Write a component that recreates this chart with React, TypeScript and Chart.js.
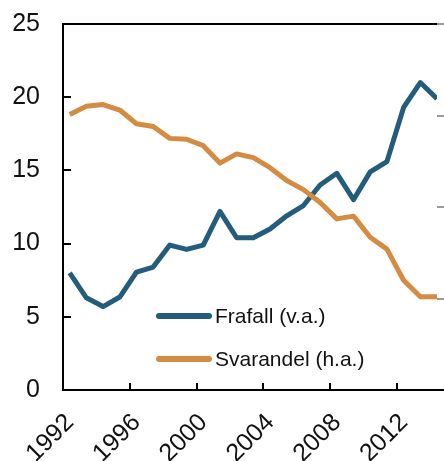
import React, { useEffect, useRef } from "react";
import { Chart, registerables } from "chart.js";

Chart.register(...registerables);

// ---- data ----
const years = [1992, 1993, 1994, 1995, 1996, 1997, 1998, 1999, 2000, 2001, 2002, 2003, 2004, 2005, 2006, 2007, 2008, 2009, 2010, 2011, 2012, 2013, 2014];
const frafall = [8.0, 6.3, 5.7, 6.35, 8.05, 8.4, 9.9, 9.6, 9.9, 12.2, 10.4, 10.4, 11.0, 11.9, 12.6, 14.0, 14.8, 13.0, 14.9, 15.6, 19.3, 21.0, 19.9];
const svarandel = [80.1, 81.0, 81.2, 80.6, 79.1, 78.8, 77.5, 77.4, 76.7, 74.8, 75.8, 75.4, 74.3, 72.9, 71.9, 70.5, 68.7, 69.0, 66.7, 65.4, 62.0, 60.2, 60.2];
const seriesLabels = ["Frafall (v.a.)", "Svarandel (h.a.)"];
const xTickYears = [1992, 1996, 2000, 2004, 2008, 2012];
const leftTicks = [0, 5, 10, 15, 20, 25];
const rightTicks = [50, 60, 70, 80, 90];
const observationOffset = 0.4; // observations dated part-way through each year

const BLUE = "#245c7c";
const ORANGE = "#d38c41";
const FONT = "'Liberation Sans', Arial, sans-serif";

const W = 444;
const H = 461;

const axisDecor = {
  id: "axisDecor",
  afterDraw(chart: any) {
    const { ctx, chartArea: a, scales } = chart;
    const line = (x1: number, y1: number, x2: number, y2: number) => {
      ctx.beginPath();
      ctx.moveTo(x1, y1);
      ctx.lineTo(x2, y2);
      ctx.stroke();
    };
    ctx.save();
    ctx.lineCap = "butt";
    ctx.lineWidth = 2;
    // right axis ticks (grey, outward)
    ctx.strokeStyle = "#9a9a9a";
    for (const v of rightTicks) {
      if (v === scales.y2.min) continue;
      const py = Math.round(scales.y2.getPixelForValue(v));
      line(a.right, py, a.right + 8, py);
    }
    ctx.strokeStyle = "#000";
    // frame lines
    line(a.left, a.top, a.right, a.top);
    line(a.left - 1, a.bottom, chart.width, a.bottom);
    line(a.left, a.top - 1, a.left, a.bottom + 1);
    // inward x ticks
    for (const v of xTickYears) {
      if (v <= scales.x.min) continue;
      const px = Math.round(scales.x.getPixelForValue(v));
      line(px, a.bottom, px, a.bottom - 7);
    }
    // inward left ticks
    for (const v of leftTicks) {
      if (v === scales.y.min) continue;
      const py = Math.round(scales.y.getPixelForValue(v));
      line(a.left, py, a.left + 8, py);
    }
    ctx.restore();
  },
};

export default function App() {
  const ref = useRef<HTMLCanvasElement | null>(null);

  useEffect(() => {
    if (!ref.current) return;
    const chart = new Chart(ref.current, {
      type: "line",
      data: {
        datasets: [
          {
            label: seriesLabels[0],
            data: years.map((y, i) => ({ x: y + observationOffset, y: frafall[i] })),
            borderColor: BLUE,
            borderWidth: 5,
            pointRadius: 0,
            tension: 0,
            borderJoinStyle: "round",
            yAxisID: "y",
            order: 1,
          },
          {
            label: seriesLabels[1],
            data: years.map((y, i) => ({ x: y + observationOffset, y: svarandel[i] })),
            borderColor: ORANGE,
            borderWidth: 5,
            pointRadius: 0,
            tension: 0,
            borderJoinStyle: "round",
            yAxisID: "y2",
            order: 0,
          },
        ],
      },
      options: {
        animation: false,
        responsive: false,
        maintainAspectRatio: false,
        layout: { padding: { top: 24, left: 0, right: 0, bottom: 0 } },
        plugins: { legend: { display: false }, tooltip: { enabled: false } },
        scales: {
          x: {
            type: "linear",
            min: years[0],
            max: years[years.length - 1] + observationOffset,
            grid: { display: false, drawTicks: false },
            border: { display: false },
            afterFit: (s: any) => {
              s.height = 71;
              s.paddingLeft = 0;
              s.paddingRight = 0;
            },
            ticks: {
              stepSize: 4,
              autoSkip: false,
              minRotation: 45,
              maxRotation: 45,
              padding: 18,
              labelOffset: 7,
              color: "#111",
              font: { family: FONT, size: 25 },
              callback: (v: any) => (xTickYears.includes(Number(v)) ? String(v) : null),
            },
          },
          y: {
            position: "left",
            min: leftTicks[0],
            max: leftTicks[leftTicks.length - 1],
            grid: { display: false, drawTicks: false },
            border: { display: false },
            afterFit: (s: any) => {
              s.width = 63;
              s.paddingTop = 0;
              s.paddingBottom = 0;
            },
            ticks: {
              stepSize: 5,
              padding: 23,
              color: "#111",
              font: { family: FONT, size: 25 },
            },
          },
          y2: {
            position: "right",
            min: rightTicks[0],
            max: rightTicks[rightTicks.length - 1],
            grid: { display: false, drawTicks: false },
            border: { display: false },
            afterFit: (s: any) => {
              s.width = 7;
              s.paddingTop = 0;
              s.paddingBottom = 0;
            },
            ticks: { display: false, stepSize: 10 },
          },
        },
      },
      plugins: [axisDecor],
    });
    return () => chart.destroy();
  }, []);

  const legendRow = (label: string, color: string, top: number) => (
    <div key={label} style={{ position: "absolute", left: 156, top, height: 24, display: "flex", alignItems: "center" }}>
      <div style={{ width: 56, height: 6, borderRadius: 3, background: color, marginRight: 3 }} />
      <span style={{ fontFamily: FONT, fontSize: 21, color: "#111", lineHeight: "24px", whiteSpace: "nowrap" }}>{label}</span>
    </div>
  );

  return (
    <div style={{ position: "fixed", left: 0, top: 0, width: W, height: H, overflow: "hidden", background: "#fff" }}>
      <canvas ref={ref} width={W} height={H} style={{ width: W, height: H, display: "block" }} />
      {legendRow(seriesLabels[0], BLUE, 304)}
      {legendRow(seriesLabels[1], ORANGE, 347)}
    </div>
  );
}
